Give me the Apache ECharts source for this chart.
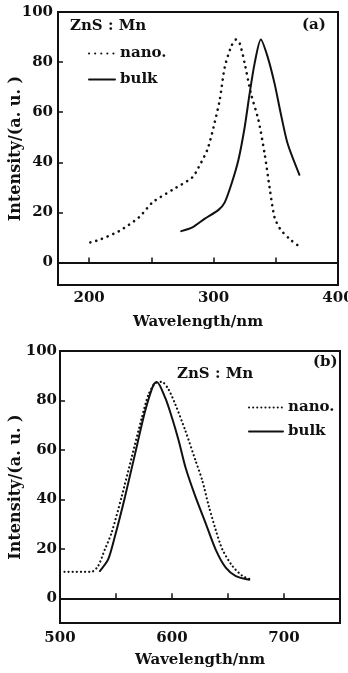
<!DOCTYPE html>
<html>
<head>
<meta charset="utf-8">
<script src="https://cdn.jsdelivr.net/npm/echarts@6/dist/echarts.min.js"></script>
<style>
  html, body { margin: 0; padding: 0; background: #fff; }
  #chart { width: 348px; height: 673px; }
</style>
</head>
<body>
<div id="chart"></div>
<script>
// panel (a) excitation spectra
const nanoA = [[201, 8], [208, 9], [224, 12.5], [240, 18], [251, 24], [267, 29], [283, 34], [288, 38],
  [295, 45], [300, 54], [305, 65], [309, 78], [314, 86], [318, 89], [321, 87.5], [325, 79.5],
  [330, 67.5], [336, 57], [341, 43.5], [345, 30], [349, 18], [354, 13], [362, 9], [370, 6]];
const bulkA = [[274, 12.5], [283, 14], [293, 17.5], [304, 21], [309, 24], [314.5, 31.5], [320, 41],
  [325, 54], [329, 67.5], [333, 79.5], [338, 89], [343.5, 82], [349, 71.5], [354, 59.5],
  [359.5, 47.5], [369, 35]];

// panel (b) emission spectra
const nanoB = [[504, 10.7], [528, 10.7], [534, 13], [540, 19.7], [546, 26.4], [555, 41], [564, 57],
  [573, 73], [579, 82.4], [585, 87], [591, 87.5], [597, 84.4], [603, 78.4], [612, 67.7],
  [621, 55.7], [627, 47.7], [633, 37], [639, 27.7], [645, 19.7], [654, 13], [663, 9], [670, 7.7]];
const bulkB = [[535.6, 11], [543, 15.7], [549, 25], [558, 41], [567, 58.4], [576, 75.7], [583.5, 86.4],
  [586.5, 87.5], [594, 81], [600, 73], [606, 63.7], [612, 53], [621, 41], [630, 30.4],
  [639, 19.7], [648, 12.4], [657, 9], [669, 7.5]];

const xTicksA = [200, 250, 300, 350];
const xLabelsA = [200, 300, 400];
const xTicksB = [550, 600, 650, 700];
const xLabelsB = [500, 600, 700];
const yTicks = [0, 20, 40, 60, 80, 100];

const FONT = 'DejaVu Serif';
const INK = '#111';

const chart = echarts.init(document.getElementById('chart'), null, { renderer: 'canvas' });

function xAxisOf(gridIndex, min, max, ticks, labels, gap, margin) {
  return {
    type: 'value', gridIndex: gridIndex, min: min, max: max,
    name: 'Wavelength/nm', nameLocation: 'middle', nameGap: gap, nameMoveOverlap: false,
    nameTextStyle: { fontFamily: FONT, fontSize: 15, fontWeight: 'bold', color: INK },
    axisLine: { show: true, lineStyle: { color: INK, width: 2 } },
    axisTick: { show: true, inside: true, length: 5, customValues: ticks, lineStyle: { color: INK, width: 1.5 } },
    axisLabel: { customValues: labels, margin: margin, fontFamily: FONT, fontSize: 15, fontWeight: 'bold', color: INK,
      showMinLabel: true, showMaxLabel: true },
    splitLine: { show: false }
  };
}

function yAxisOf(gridIndex, min, margin, gap) {
  return {
    type: 'value', gridIndex: gridIndex, min: min, max: 100,
    name: 'Intensity/(a. u. )', nameLocation: 'middle', nameGap: gap, nameMoveOverlap: false,
    nameTextStyle: { fontFamily: FONT, fontSize: 16, fontWeight: 'bold', color: INK },
    axisLine: { show: true, lineStyle: { color: INK, width: 2 } },
    axisTick: { show: true, inside: true, length: 5, customValues: yTicks, lineStyle: { color: INK, width: 1.5 } },
    axisLabel: { customValues: yTicks, margin: margin, fontFamily: FONT, fontSize: 15, fontWeight: 'bold', color: INK },
    splitLine: { show: false }
  };
}

function lineSeries(name, data, axisIndex, dash, width) {
  return {
    name: name, type: 'line', xAxisIndex: axisIndex, yAxisIndex: axisIndex,
    data: data, smooth: 0.25, symbol: 'none',
    itemStyle: { color: INK },
    lineStyle: { color: INK, width: width, type: dash, cap: 'round' }
  };
}

const legendText = { fontFamily: FONT, fontSize: 15, fontWeight: 'bold', color: INK };

const option = {
  backgroundColor: '#fff',
  animation: false,
  grid: [
    { left: 58, right: 10, top: 12, height: 273, show: true, borderColor: INK, borderWidth: 2, outerBoundsMode: 'none' },
    { left: 60, right: 8, top: 351, height: 272, show: true, borderColor: INK, borderWidth: 2, outerBoundsMode: 'none' }
  ],
  xAxis: [
    xAxisOf(0, 175, 400, xTicksA, xLabelsA, 30, 6),
    xAxisOf(1, 500, 750, xTicksB, xLabelsB, 30, 8)
  ],
  yAxis: [
    yAxisOf(0, -9, 5, 34),
    yAxisOf(1, -10, 3, 36)
  ],
  legend: [
    {
      data: ['a-nano.', 'a-bulk'], orient: 'vertical', left: 88, top: 46, itemGap: 11,
      itemWidth: 26, itemHeight: 10, textStyle: legendText, padding: 0,
      itemStyle: { opacity: 0 },
      formatter: function (n) { return n.slice(2); }
    },
    {
      data: ['b-nano.', 'b-bulk'], orient: 'vertical', left: 248, top: 400, itemGap: 9,
      itemWidth: 34, itemHeight: 10, textStyle: legendText, padding: 0,
      itemStyle: { opacity: 0 },
      formatter: function (n) { return n.slice(2); }
    }
  ],
  graphic: [
    { type: 'text', left: 70, top: 19, style: { text: 'ZnS : Mn', font: 'bold 15px "DejaVu Serif"', fill: INK } },
    { type: 'text', left: 302, top: 18, style: { text: '(a)', font: 'bold 15px "DejaVu Serif"', fill: INK } },
    { type: 'text', left: 177, top: 367, style: { text: 'ZnS : Mn', font: 'bold 15px "DejaVu Serif"', fill: INK } },
    { type: 'text', left: 313, top: 355, style: { text: '(b)', font: 'bold 15px "DejaVu Serif"', fill: INK } }
  ],
  series: [
    lineSeries('a-nano.', nanoA, 0, [0.1, 6], 2.6),
    lineSeries('a-bulk', bulkA, 0, 'solid', 2),
    lineSeries('b-nano.', nanoB, 1, [0.1, 4], 2.2),
    lineSeries('b-bulk', bulkB, 1, 'solid', 2)
  ]
};

chart.setOption(option);
window.addEventListener('resize', function () { chart.resize(); });
</script>
</body>
</html>
